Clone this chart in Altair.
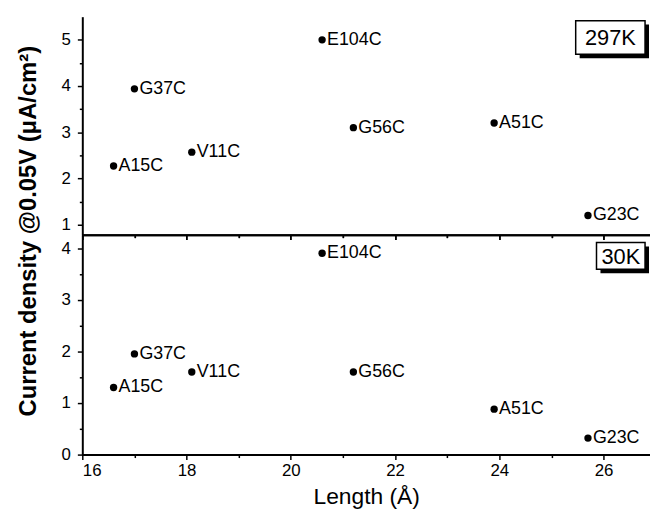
import altair as alt
import pandas as pd

# ---- data ----
names = ["A15C", "G37C", "V11C", "E104C", "G56C", "A51C", "G23C"]
length = [16.6, 17.0, 18.1, 20.6, 21.2, 23.9, 25.7]
j_297K = [2.27, 3.94, 2.57, 5.0, 3.1, 3.2, 1.2]
j_30K = [1.3, 1.95, 1.6, 3.9, 1.6, 0.88, 0.32]

x_major = [16, 18, 20, 22, 24, 26]
x_minor = [17, 19, 21, 23, 25]
top_major = [1, 2, 3, 4, 5]
top_minor = [1.5, 2.5, 3.5, 4.5]
bot_major = [0, 1, 2, 3, 4]
bot_minor = [0.5, 1.5, 2.5, 3.5]

df = pd.DataFrame({"name": names, "length": length, "j297": j_297K, "j30": j_30K})

W = 573
H_TOP = 220
H_BOT = 222
XDOM = [16, 26.89]
FONT = "Liberation Sans"


def xs():
    return alt.Scale(domain=XDOM, nice=False, zero=False)


def ys(dom):
    return alt.Scale(domain=dom, nice=False, zero=False)


def panel(ycol, ydom, ymaj, ymin, h, tag, box, is_bottom, ytitle):
    base = alt.Chart(df)
    if is_bottom:
        x_axis = alt.Axis(orient="bottom", values=x_major, tickSize=5, labels=True,
                          labelPadding=3, title="Length (Å)", titleY=49,
                          titleBaseline="alphabetic", titleFontSize=23, domain=True)
    else:
        x_axis = alt.Axis(orient="bottom", values=x_major, tickSize=5, labels=False,
                          title=None, domain=True)
    if ytitle:
        y_axis = alt.Axis(orient="left", values=ymaj, tickSize=5, labelPadding=7,
                          title="Current density @0.05V (μA/cm²)", titleX=-47, titleY=216,
                          titleAngle=-90, titleAlign="center", titleBaseline="alphabetic",
                          titleFontSize=24, titleFontWeight="bold", domain=True)
    else:
        y_axis = alt.Axis(orient="left", values=ymaj, tickSize=5, labelPadding=7,
                          title=None, domain=True)

    pts = base.mark_circle(size=55, color="black", opacity=1).encode(
        x=alt.X("length:Q", scale=xs(), axis=x_axis),
        y=alt.Y(f"{ycol}:Q", scale=ys(ydom), axis=y_axis),
    )
    labels = base.mark_text(align="left", baseline="middle", dx=5, font=FONT,
                            fontSize=18, color="black").encode(
        x=alt.X("length:Q", scale=xs(), axis=None),
        y=alt.Y(f"{ycol}:Q", scale=ys(ydom), axis=None),
        text="name:N",
    )
    layers = [pts, labels]

    # minor ticks on bottom edge / left edge
    layers.append(base.mark_point(opacity=0).encode(
        x=alt.X("length:Q", scale=xs(), axis=alt.Axis(orient="bottom", values=x_minor, tickSize=3,
                                                        labels=False, title=None, domain=False)),
        y=alt.Y(f"{ycol}:Q", scale=ys(ydom), axis=alt.Axis(orient="left", values=ymin, tickSize=3,
                                                            labels=False, title=None, domain=False)),
    ))

    lay_r = base.mark_point(opacity=0)
    if not is_bottom:
        # top edge (ticks pointing into the plot) + right edge ticks
        layers.append(lay_r.encode(
            x=alt.X("length:Q", scale=xs(), axis=alt.Axis(orient="bottom", position=0, values=x_major,
                                                            tickSize=5, labels=False, title=None,
                                                            domain=True)),
            y=alt.Y(f"{ycol}:Q", scale=ys(ydom), axis=alt.Axis(orient="left", position=W, values=ymaj,
                                                                tickSize=4, labels=False, title=None,
                                                                domain=False)),
        ))
        layers.append(lay_r.encode(
            x=alt.X("length:Q", scale=xs(), axis=alt.Axis(orient="bottom", position=0, values=x_minor,
                                                            tickSize=3, labels=False, title=None,
                                                            domain=False)),
            y=alt.Y(f"{ycol}:Q", scale=ys(ydom), axis=alt.Axis(orient="left", position=W, values=ymin,
                                                                tickSize=3, labels=False, title=None,
                                                                domain=False)),
        ))
    else:
        layers.append(lay_r.encode(
            x=alt.X("length:Q", scale=xs(), axis=None),
            y=alt.Y(f"{ycol}:Q", scale=ys(ydom), axis=alt.Axis(orient="left", position=W, values=ymaj,
                                                                tickSize=4, labels=False, title=None,
                                                                domain=False)),
        ))
        layers.append(lay_r.encode(
            x=alt.X("length:Q", scale=xs(), axis=None),
            y=alt.Y(f"{ycol}:Q", scale=ys(ydom), axis=alt.Axis(orient="left", position=W, values=ymin,
                                                                tickSize=3, labels=False, title=None,
                                                                domain=False)),
        ))

    # temperature tag box with drop shadow
    bx0, bx1, by0, by1 = box
    tdf = pd.DataFrame({"t": [tag]})
    tb = alt.Chart(tdf)
    shadow = tb.mark_rect(color="black").encode(
        x=alt.value(bx0 + 4), x2=alt.value(bx1 + 4), y=alt.value(by0 + 4), y2=alt.value(by1 + 4))
    frame = tb.mark_rect(fill="white", stroke="black", strokeWidth=1.5).encode(
        x=alt.value(bx0), x2=alt.value(bx1), y=alt.value(by0), y2=alt.value(by1))
    ttext = tb.mark_text(align="center", baseline="middle", font=FONT, fontSize=22,
                         color="black").encode(
        x=alt.value((bx0 + bx1) / 2), y=alt.value((by0 + by1) / 2 + 1), text="t:N")
    layers += [shadow, frame, ttext]

    return alt.layer(*layers).resolve_scale(x="independent", y="independent").properties(
        width=W, height=h)


top = panel("j297", [0.786, 5.5], top_major, top_minor, H_TOP, "297K",
            (498, 568, 4, 38), False, True)
bottom = panel("j30", [0, 4.26], bot_major, bot_minor, H_BOT, "30K",
               (519, 568, 8, 35), True, False)

chart = alt.vconcat(top, bottom, spacing=0, bounds="flush").properties(
    padding={"left": 8, "top": 4, "right": 0, "bottom": 0}
).configure_axis(
    grid=False, labelFont=FONT, labelFontSize=17, labelColor="black",
    tickColor="black", tickWidth=1.5, domainColor="black", domainWidth=2,
    titleFont=FONT, titleColor="black", titleFontWeight="normal"
).configure_view(stroke=None)

chart.save("out.html", embed_options={"renderer": "svg", "actions": False})
